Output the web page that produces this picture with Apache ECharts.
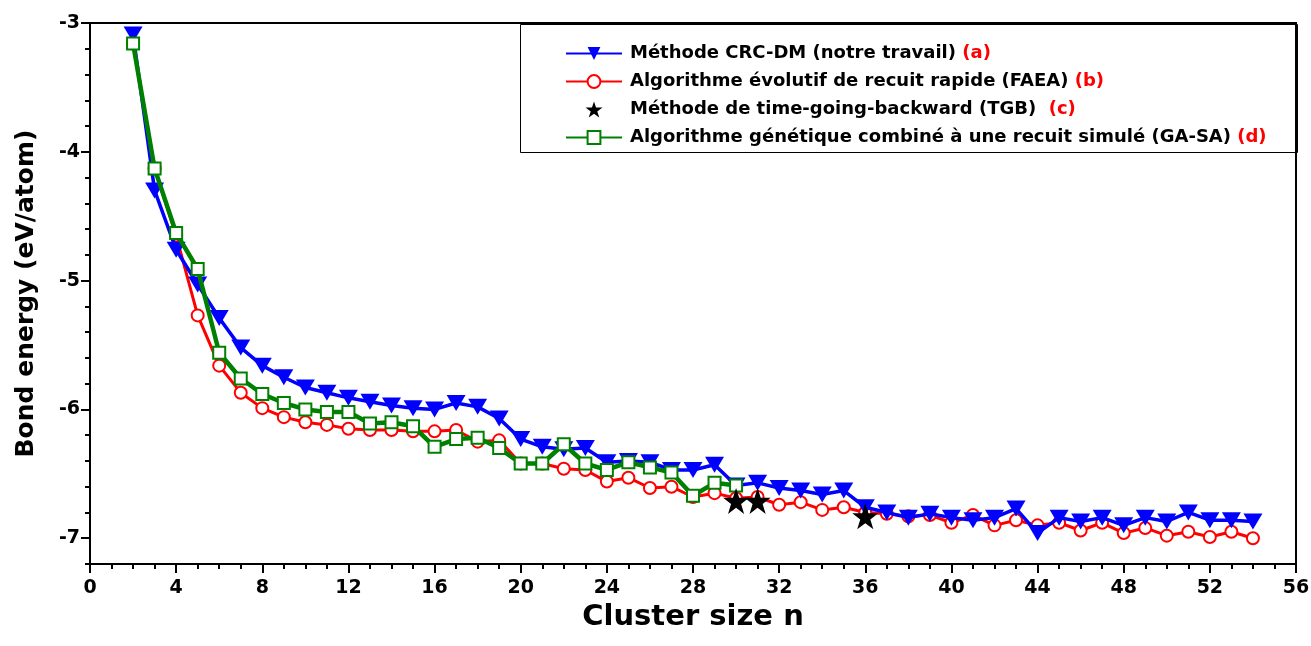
<!DOCTYPE html>
<html><head><meta charset="utf-8">
<script src="https://cdn.jsdelivr.net/npm/echarts@6/dist/echarts.min.js"></script>
<style>html,body{margin:0;padding:0;background:#fff}#c{width:1311px;height:646px}</style>
</head><body><div id="c"></div>
<script>
const sizesA = [2,3,4,5,6,7,8,9,10,11,12,13,14,15,16,17,18,19,20,21,22,23,24,25,26,27,28,29,30,31,32,33,34,35,36,37,38,39,40,41,42,43,44,45,46,47,48,49,50,51,52,53,54];
const energyA = [-3.09,-4.30,-4.76,-5.03,-5.29,-5.52,-5.66,-5.75,-5.83,-5.87,-5.91,-5.94,-5.97,-5.99,-6.00,-5.95,-5.98,-6.07,-6.23,-6.29,-6.31,-6.30,-6.41,-6.40,-6.41,-6.47,-6.47,-6.43,-6.59,-6.57,-6.61,-6.63,-6.66,-6.63,-6.76,-6.80,-6.84,-6.81,-6.84,-6.86,-6.84,-6.77,-6.96,-6.84,-6.87,-6.84,-6.90,-6.84,-6.87,-6.80,-6.86,-6.86,-6.87];
const sizesB = sizesA;
const energyB = [-3.16,-4.13,-4.65,-5.27,-5.66,-5.87,-5.99,-6.06,-6.10,-6.12,-6.15,-6.16,-6.16,-6.17,-6.17,-6.16,-6.25,-6.24,-6.42,-6.42,-6.46,-6.47,-6.56,-6.53,-6.61,-6.60,-6.68,-6.65,-6.69,-6.68,-6.74,-6.72,-6.78,-6.76,-6.80,-6.81,-6.83,-6.82,-6.88,-6.82,-6.90,-6.86,-6.90,-6.88,-6.94,-6.88,-6.96,-6.92,-6.98,-6.95,-6.99,-6.95,-7.00];
const sizesC = [30,31,36];
const energyC = [-6.71,-6.71,-6.83];
const sizesD = [2,3,4,5,6,7,8,9,10,11,12,13,14,15,16,17,18,19,20,21,22,23,24,25,26,27,28,29,30];
const energyD = [-3.16,-4.13,-4.63,-4.91,-5.56,-5.76,-5.88,-5.95,-6.00,-6.02,-6.02,-6.11,-6.10,-6.13,-6.29,-6.23,-6.22,-6.30,-6.42,-6.42,-6.27,-6.42,-6.47,-6.41,-6.45,-6.49,-6.67,-6.57,-6.59];
const seriesNames = ['Méthode CRC-DM (notre travail)','Algorithme évolutif de recuit rapide (FAEA)','Méthode de time-going-backward (TGB)','Algorithme génétique combiné à une recuit simulé (GA-SA)'];
const seriesTags = ['(a)','(b)','(c)','(d)'];
const seriesGaps = [' ',' ','  ',' '];
const yMajorTicks = [-7,-6,-5,-4,-3];

const FONT = '"DejaVu Sans", "Liberation Sans", Arial, sans-serif';
const pairs = (xs, ys) => xs.map((x, i) => [x, ys[i]]);
const STAR = 'path://M50,0 L61.8,35.3 L99,35.3 L69,57.1 L80.4,92.5 L50,70.7 L19.6,92.5 L31,57.1 L1,35.3 L38.2,35.3 Z';

const chart = echarts.init(document.getElementById('c'), null, {renderer: 'canvas'});
const tagOf = {};
seriesNames.forEach((n, i) => tagOf[n] = seriesGaps[i] + '{r|' + seriesTags[i] + '}');

chart.setOption({
  animation: false,
  backgroundColor: '#fff',
  grid: {left: 90, right: 15, top: 23, bottom: 82, show: true, borderColor: '#000', borderWidth: 2,
         backgroundColor: 'transparent', containLabel: false, outerBoundsMode: 'none'},
  graphic: [{type: 'rect', left: 518, top: 22, shape: {width: 777, height: 128}, style: {fill: 'none', stroke: '#000', lineWidth: 1}, z: 50}],
  legend: {
    data: seriesNames, orient: 'vertical', left: 565, top: 43, padding: 0,
    itemWidth: 56, itemHeight: 16, itemGap: 7,
    formatter: name => '{t|' + name + '}' + tagOf[name],
    textStyle: {fontFamily: FONT, fontWeight: 'bold', fontSize: 18, color: '#000', lineHeight: 21,
      rich: {t: {fontFamily: FONT, fontWeight: 'bold', fontSize: 18, color: '#000', padding: [0, 0, 0, 3]},
             r: {fontFamily: FONT, fontWeight: 'bold', fontSize: 18, color: '#ff0000'}}}
  },
  xAxis: {
    type: 'value', min: 0, max: 56, interval: 4,
    name: 'Cluster size n', nameLocation: 'middle', nameGap: 30,
    nameTextStyle: {fontFamily: FONT, fontWeight: 'bold', fontSize: 29, color: '#000'},
    axisLine: {lineStyle: {color: '#000', width: 2}},
    axisTick: {show: true, length: 9, lineStyle: {color: '#000', width: 2}},
    minorTick: {show: true, splitNumber: 4, length: 5, lineStyle: {color: '#000', width: 2}},
    splitLine: {show: false},
    axisLabel: {fontFamily: FONT, fontWeight: 'bold', fontSize: 19, color: '#000', margin: 15}
  },
  yAxis: [{
    type: 'value', min: -7.2, max: -3, interval: 0.2,
    name: 'Bond energy (eV/atom)', nameLocation: 'middle', nameGap: 51,
    nameTextStyle: {fontFamily: FONT, fontWeight: 'bold', fontSize: 25, color: '#000'},
    axisLine: {lineStyle: {color: '#000', width: 2}},
    axisTick: {show: true, length: 5, lineStyle: {color: '#000', width: 2}},
    splitLine: {show: false},
    axisLabel: {fontFamily: FONT, fontWeight: 'bold', fontSize: 19, color: '#000', margin: 10,
      formatter: v => (Math.abs(v - Math.round(v)) < 1e-6 ? String(Math.round(v)) : '')}
  }, {
    type: 'value', min: -7.2, max: -3, position: 'left',
    axisLine: {show: false}, splitLine: {show: false},
    axisTick: {show: true, length: 9, customValues: yMajorTicks, lineStyle: {color: '#000', width: 2}},
    axisLabel: {show: false}
  }],
  series: [
    {name: seriesNames[1], type: 'line', data: pairs(sizesB, energyB), z: 2,
     symbol: 'emptyCircle', symbolSize: 12, color: '#ff0000',
     lineStyle: {width: 3, color: '#ff0000'}, itemStyle: {color: '#ff0000', borderWidth: 2.5}},
    {name: seriesNames[0], type: 'line', data: pairs(sizesA, energyA), z: 3,
     symbol: 'triangle', symbolRotate: 180, symbolSize: [19, 16], color: '#0000ff',
     lineStyle: {width: 3.5, color: '#0000ff'}, itemStyle: {color: '#0000ff'}},
    {name: seriesNames[3], type: 'line', data: pairs(sizesD, energyD), z: 4,
     symbol: 'emptyRect', symbolSize: 12, color: '#008000',
     lineStyle: {width: 4.5, color: '#008000'}, itemStyle: {color: '#008000', borderWidth: 3}},
    {name: seriesNames[2], type: 'scatter', data: pairs(sizesC, energyC), z: 5,
     symbol: STAR, symbolSize: 26, color: '#000', itemStyle: {color: '#000', opacity: 1}}
  ]
});
</script></body></html>
